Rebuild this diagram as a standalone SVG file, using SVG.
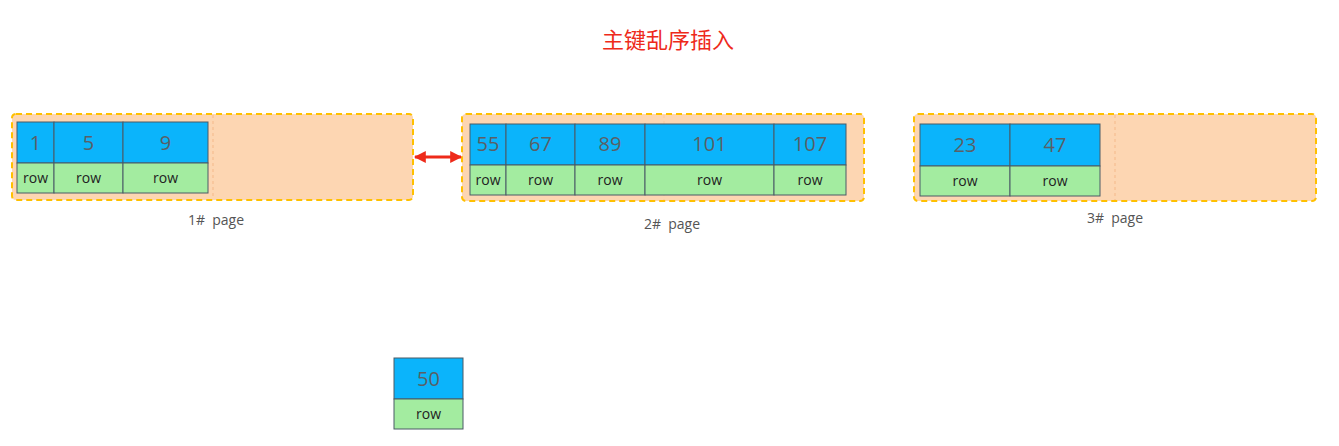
<svg xmlns="http://www.w3.org/2000/svg" width="1339" height="446" viewBox="0 0 1339 446">
<style>
.page{fill:#fdd6b2;stroke:#ffc000;stroke-width:2;stroke-dasharray:6 4}
.sep{stroke:#f4b98a;stroke-width:1;stroke-dasharray:3 3}
.key{fill:#0bb4fb;stroke:#4a5a66;stroke-width:1}
.row{fill:#a3eca0;stroke:#4a5a66;stroke-width:1}
.num{font-family:"Open Sans","Liberation Sans",sans-serif;font-size:20px;fill:#5a5f66;text-anchor:middle}
.rt{font-family:"Open Sans","Liberation Sans",sans-serif;font-size:14px;fill:#222;text-anchor:middle}
.lbl{font-family:"Open Sans","Liberation Sans",sans-serif;font-size:14px;fill:#555;text-anchor:middle;white-space:pre}
</style>
<defs>
<marker id="ah" viewBox="0 0 10 10" refX="9" refY="5" markerWidth="4" markerHeight="4" orient="auto-start-reverse"><path d="M0,0 L10,5 L0,10 z" fill="#ee2a1a"/></marker>
</defs>
<rect width="1339" height="446" fill="#fff"/>
<text x="668" y="48" font-family="'Noto Sans CJK SC',sans-serif" font-size="22" fill="#ee2a1a" text-anchor="middle">主键乱序插入</text>

<g id="page1">
<rect class="page" x="12" y="114" width="401" height="86" rx="4"/>
<line class="sep" x1="213" y1="115" x2="213" y2="199"/>
<rect class="key" x="17" y="122" width="37" height="41"/>
<rect class="key" x="54" y="122" width="69" height="41"/>
<rect class="key" x="123" y="122" width="85" height="41"/>
<rect class="row" x="17" y="163" width="37" height="30"/>
<rect class="row" x="54" y="163" width="69" height="30"/>
<rect class="row" x="123" y="163" width="85" height="30"/>
<text class="num" x="35.5" y="150">1</text>
<text class="num" x="88.5" y="150">5</text>
<text class="num" x="165.5" y="150">9</text>
<text class="rt" x="35.5" y="183">row</text>
<text class="rt" x="88.5" y="183">row</text>
<text class="rt" x="165.5" y="183">row</text>
<text class="lbl" x="216" y="225">1#  page</text>
</g>

<g id="page2">
<rect class="page" x="462" y="114" width="402" height="87" rx="4"/>
<line class="sep" x1="664" y1="115" x2="664" y2="200" opacity="0.4"/>
<rect class="key" x="470" y="124" width="36" height="41"/>
<rect class="key" x="506" y="124" width="69" height="41"/>
<rect class="key" x="575" y="124" width="70" height="41"/>
<rect class="key" x="645" y="124" width="129" height="41"/>
<rect class="key" x="774" y="124" width="72" height="41"/>
<rect class="row" x="470" y="165" width="36" height="30"/>
<rect class="row" x="506" y="165" width="69" height="30"/>
<rect class="row" x="575" y="165" width="70" height="30"/>
<rect class="row" x="645" y="165" width="129" height="30"/>
<rect class="row" x="774" y="165" width="72" height="30"/>
<text class="num" x="488" y="151">55</text>
<text class="num" x="540.5" y="151">67</text>
<text class="num" x="610" y="151">89</text>
<text class="num" x="709.5" y="151">101</text>
<text class="num" x="810" y="151">107</text>
<text class="rt" x="488" y="185">row</text>
<text class="rt" x="540.5" y="185">row</text>
<text class="rt" x="610" y="185">row</text>
<text class="rt" x="709.5" y="185">row</text>
<text class="rt" x="810" y="185">row</text>
<text class="lbl" x="672" y="229">2#  page</text>
</g>

<g id="page3">
<rect class="page" x="914" y="114" width="402" height="87" rx="4"/>
<line class="sep" x1="1115" y1="115" x2="1115" y2="200"/>
<rect class="key" x="920" y="124" width="90" height="42"/>
<rect class="key" x="1010" y="124" width="90" height="42"/>
<rect class="row" x="920" y="166" width="90" height="30"/>
<rect class="row" x="1010" y="166" width="90" height="30"/>
<text class="num" x="965" y="152">23</text>
<text class="num" x="1055" y="152">47</text>
<text class="rt" x="965" y="186">row</text>
<text class="rt" x="1055" y="186">row</text>
<text class="lbl" x="1115" y="223">3#  page</text>
</g>

<g id="node50">
<rect class="key" x="394" y="358" width="69" height="41"/>
<rect class="row" x="394" y="399" width="69" height="30"/>
<text class="num" x="428.5" y="386">50</text>
<text class="rt" x="428.5" y="419">row</text>
</g>

<g id="connectors">
<line x1="415" y1="157" x2="461" y2="157" stroke="#ee2a1a" stroke-width="3" marker-start="url(#ah)" marker-end="url(#ah)"/>
</g>
</svg>
